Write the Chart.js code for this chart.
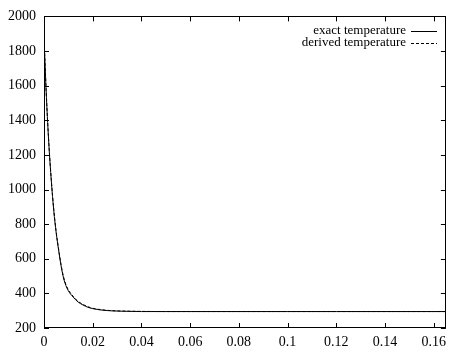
<!DOCTYPE html>
<html>
<head>
<meta charset="utf-8">
<script src="https://cdn.jsdelivr.net/npm/chart.js@4/dist/chart.umd.min.js"></script>
<style>
html,body{margin:0;padding:0;background:#fff;}
#wrap{width:452px;height:353px;position:relative;}
</style>
</head>
<body>
<div id="wrap"><canvas id="c" width="452" height="353"></canvas></div>
<script>
// time (s)
const timeValues = [0, 0.001, 0.002, 0.003, 0.004, 0.005, 0.006, 0.007, 0.008, 0.009, 0.010, 0.012, 0.014, 0.016, 0.018, 0.020, 0.024, 0.028, 0.032, 0.040, 0.050, 0.060, 0.080, 0.100, 0.120, 0.140, 0.160, 0.165];
// exact temperature
const exactTemp = [1880, 1530, 1260, 1050, 880, 750, 650, 560, 490, 445, 415, 378, 350, 333, 320, 312, 303, 299, 297, 295, 295, 295, 295, 295, 295, 295, 295, 295];
// derived temperature
const derivedTemp = [1875, 1535, 1265, 1056, 886, 756, 656, 566, 496, 451, 420, 383, 354, 336, 323, 314, 305, 300, 298, 296, 295, 295, 295, 295, 295, 295, 295, 295];
const seriesNames = ["exact temperature", "derived temperature"];
const xTickValues = [0, 0.02, 0.04, 0.06, 0.08, 0.1, 0.12, 0.14, 0.16];
const yTickValues = [200, 400, 600, 800, 1000, 1200, 1400, 1600, 1800, 2000];

const FONT = '"Liberation Serif", "DejaVu Serif", serif';

const framePlugin = {
  id: 'frame',
  afterDraw(chart) {
    const ctx = chart.ctx, a = chart.chartArea;
    const xs = chart.scales.x, ys = chart.scales.y;
    const L = 5;
    ctx.save();
    ctx.strokeStyle = '#000';
    ctx.lineWidth = 1;
    ctx.strokeRect(Math.round(a.left) + 0.5, Math.round(a.top) + 0.5, Math.round(a.right - a.left) - 1, Math.round(a.bottom - a.top) - 1);
    ctx.beginPath();
    xTickValues.forEach(v => {
      const px = Math.round(xs.getPixelForValue(v)) + 0.5;
      ctx.moveTo(px, a.bottom); ctx.lineTo(px, a.bottom - L);
      ctx.moveTo(px, a.top); ctx.lineTo(px, a.top + L);
    });
    yTickValues.forEach(v => {
      const py = Math.round(ys.getPixelForValue(v)) + 0.5;
      ctx.moveTo(a.left, py); ctx.lineTo(a.left + L, py);
      ctx.moveTo(a.right, py); ctx.lineTo(a.right - L, py);
    });
    ctx.stroke();
    // legend
    ctx.font = '13px ' + FONT;
    ctx.fillStyle = '#000';
    ctx.textAlign = 'right';
    ctx.textBaseline = 'middle';
    const rows = [30.5, 43];
    chart.data.datasets.forEach((ds, i) => {
      const y = rows[i];
      ctx.fillText(ds.label, 406, y);
      ctx.beginPath();
      ctx.setLineDash(ds.borderDash || []);
      ctx.moveTo(411, Math.round(y) + 0.5);
      ctx.lineTo(437, Math.round(y) + 0.5);
      ctx.stroke();
      ctx.setLineDash([]);
    });
    ctx.restore();
  }
};

new Chart(document.getElementById('c'), {
  type: 'line',
  data: {
    datasets: [
      {
        label: seriesNames[0],
        data: timeValues.map((t, i) => ({x: t, y: exactTemp[i]})),
        borderColor: '#000', borderWidth: 1, pointRadius: 0, cubicInterpolationMode: 'monotone', fill: false
      },
      {
        label: seriesNames[1],
        data: timeValues.map((t, i) => ({x: t, y: derivedTemp[i]})),
        borderColor: '#000', borderWidth: 1, borderDash: [3, 2], pointRadius: 0, cubicInterpolationMode: 'monotone', fill: false
      }
    ]
  },
  options: {
    responsive: false,
    animation: false,
    devicePixelRatio: 1,
    layout: {padding: {top: 10, right: 1, left: 0, bottom: 0}},
    plugins: {legend: {display: false}, tooltip: {enabled: false}},
    scales: {
      x: {
        type: 'linear', min: 0, max: 0.165,
        afterBuildTicks: s => { s.ticks = xTickValues.map(v => ({value: v})); },
        afterFit: s => { s.height = 25; },
        grid: {display: false, drawTicks: false},
        border: {display: false},
        ticks: {
          color: '#000', padding: 6, font: {family: FONT, size: 14}, maxRotation: 0, autoSkip: false,
          callback: v => String(Math.round(v * 100) / 100)
        }
      },
      y: {
        type: 'linear', min: 200, max: 2000,
        afterBuildTicks: s => { s.ticks = yTickValues.map(v => ({value: v})); },
        afterFit: s => { s.width = 44; },
        grid: {display: false, drawTicks: false},
        border: {display: false},
        ticks: {color: '#000', padding: 8, font: {family: FONT, size: 14}, autoSkip: false,
          callback: v => String(v)}
      }
    }
  },
  plugins: [framePlugin]
});
</script>
</body>
</html>
